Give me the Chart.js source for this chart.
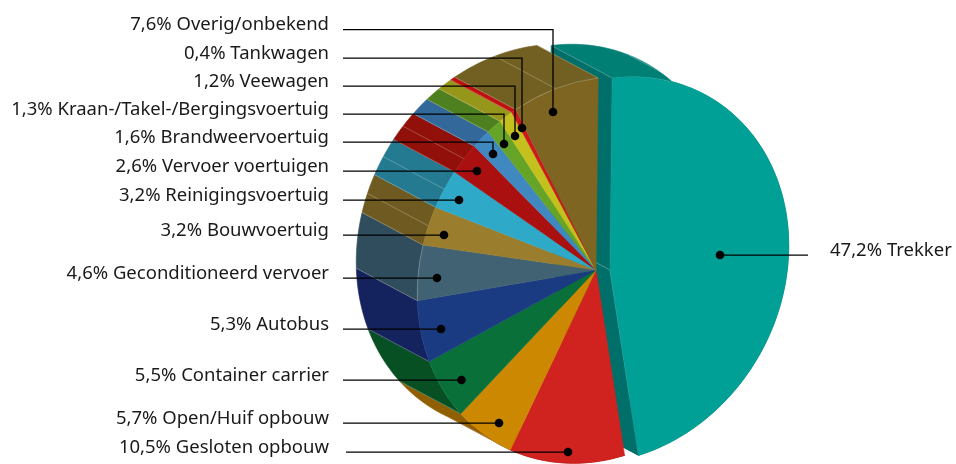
<!DOCTYPE html>
<html><head><meta charset="utf-8">
<style>html,body{margin:0;padding:0;background:#fff}canvas{display:block}</style>
<script src="https://cdn.jsdelivr.net/npm/chart.js@4"></script>
</head><body><canvas id="c" width="956" height="464"></canvas>
<script>
// Data, clockwise from the top of the pie
const categories = ["Trekker","Gesloten opbouw","Open/Huif opbouw","Container carrier","Autobus","Geconditioneerd vervoer","Bouwvoertuig","Reinigingsvoertuig","Vervoer voertuigen","Brandweervoertuig","Kraan-/Takel-/Bergingsvoertuig","Veewagen","Tankwagen","Overig/onbekend"];
const shares = [47.2,10.5,5.7,5.5,5.3,4.6,3.2,3.2,2.6,1.6,1.3,1.2,0.4,7.6];
const faceColors = ["#00a096","#d0221e","#cc8800","#087038","#1a3a82","#406272","#9a7e2e","#2fa9c8","#ab1010","#3f88c0","#66a428","#c4c01e","#d0181c","#7f6522"];
const wallColors = ["#007f75","#a81c18","#906000","#065024","#14235e","#2f4d5c","#6f5a22","#247a90","#92100a","#33699a","#4f8020","#96961a","#c01010","#716022"];
const radialWall = "#006f69";
const midLines = [false,false,false,false,false,false,true,true,true,false,false,false,false,true];
const arcHighlights = [false,false,false,false,false,true,false,false,false,false,false,false,false,true];

// Leader lines: [label baseline, elbow/dot x, dot y]
const leaderLineY = [255,452,423,380,329,278,235,200,171,142,114,86,58,29.5];
const dotX = [720,568,499,461.5,441,437,444,459,477,493,504,515,522,553];
const dotY = [255,452,423,380,329,278,235,200,171,154,144,136,128,112];

// Projection of the pie plane and depth of the extrusion
const SCALE_X = 179/192, SHEAR_Y = -24.4/192;
const DEPTH = {x:-61,y:-32.5};
const EXPLODE = {x:14,y:0};
const FONT = '18.5px "Noto Sans"';

const project = (x,y,P) => {
  const dx=x-P.x, dy=y-P.y;
  return {x:P.x+SCALE_X*dx, y:P.y+SHEAR_Y*dx+dy};
};
const threeD = {
  id:'threeD',
  afterDatasetsUpdate(chart){
    const arcs = chart.getDatasetMeta(0).data;
    const lx = EXPLODE.x/SCALE_X;
    arcs[0].x = arcs[1].x + lx;
    arcs[0].y = arcs[1].y + EXPLODE.y - SHEAR_Y*lx;
  },
  beforeDatasetsDraw(chart){
    const ctx = chart.ctx, arcs = chart.getDatasetMeta(0).data;
    const P = {x:arcs[1].x,y:arcs[1].y};
    const pt = (a,ang) => project(a.x+a.outerRadius*Math.cos(ang), a.y+a.outerRadius*Math.sin(ang), P);
    const back = p => ({x:p.x+DEPTH.x,y:p.y+DEPTH.y});
    const poly = (pts,fill) => {
      ctx.beginPath(); pts.forEach((p,i)=>i?ctx.lineTo(p.x,p.y):ctx.moveTo(p.x,p.y)); ctx.closePath();
      ctx.fillStyle=fill; ctx.strokeStyle=fill; ctx.lineWidth=.6; ctx.fill(); ctx.stroke();
    };
    const seg = (a,b) => {
      ctx.beginPath(); ctx.moveTo(a.x,a.y); ctx.lineTo(b.x,b.y);
      ctx.strokeStyle='rgba(255,255,255,.35)'; ctx.lineWidth=.7; ctx.stroke();
    };
    const wallOf = (a,i) => {
      const n = Math.max(2,Math.ceil((a.endAngle-a.startAngle)/0.03));
      const f=[];
      for(let k=0;k<=n;k++) f.push(pt(a,a.startAngle+(a.endAngle-a.startAngle)*k/n));
      poly(f.concat(f.slice().reverse().map(back)),wallColors[i]);
    };
    ctx.save();
    const t = arcs[0];
    const apex = project(t.x,t.y,P);
    wallOf(t,0);
    [t.startAngle,t.endAngle].forEach(ang=>{
      const e = pt(t,ang);
      poly([apex,e,back(e),back(apex)],radialWall);
    });
    arcs.forEach((a,i)=>{ if(i) wallOf(a,i); });
    seg(apex,back(apex));
    const s0=pt(t,t.startAngle); seg(s0,back(s0));
    const e0=pt(t,t.endAngle); seg(e0,apex);
    const m0=pt(t,t.startAngle+0.45); seg(m0,back(m0));
    arcs.forEach((a,i)=>{
      if(i===0) return;
      const e=pt(a,a.endAngle); seg(e,back(e));
      if(midLines[i]){const m=pt(a,(a.startAngle+a.endAngle)/2); seg(m,back(m));}
    });
    ctx.restore();
    // front faces go through the same projection
    ctx.save();
    ctx.translate(P.x,P.y); ctx.transform(SCALE_X,SHEAR_Y,0,1,0,0); ctx.translate(-P.x,-P.y);
  },
  afterDatasetsDraw(chart){
    const ctx = chart.ctx, arcs = chart.getDatasetMeta(0).data;
    arcs.forEach((a,i)=>{
      if(!arcHighlights[i]) return;
      ctx.beginPath(); ctx.arc(a.x,a.y,a.outerRadius,a.startAngle,a.endAngle);
      ctx.strokeStyle='rgba(255,255,255,.3)'; ctx.lineWidth=.7; ctx.stroke();
    });
    ctx.restore();
  },
  afterDraw(chart){
    const ctx=chart.ctx;
    ctx.save();
    ctx.font=FONT; ctx.textBaseline='alphabetic';
    categories.forEach((name,i)=>{
      const text = shares[i].toFixed(1).replace('.',',')+'% '+name;
      const y = leaderLineY[i]+.2;
      ctx.fillStyle='#1a1a1a';
      ctx.textAlign = i===0 ? 'left':'right';
      ctx.fillText(text, i===0?830:329, leaderLineY[i]+.5);
      ctx.beginPath();
      if(i===0){ctx.moveTo(808,y);ctx.lineTo(dotX[i],y);}
      else{ctx.moveTo(i===1?346:343,y);ctx.lineTo(dotX[i],y);ctx.lineTo(dotX[i],dotY[i]);}
      ctx.strokeStyle='#000';ctx.lineWidth=1.3;ctx.stroke();
      ctx.beginPath();ctx.arc(dotX[i],dotY[i],4.3,0,Math.PI*2);ctx.fillStyle='#000';ctx.fill();
    });
    ctx.restore();
  }
};
new Chart(document.getElementById('c'),{
  type:'pie',
  data:{labels:categories,datasets:[{data:shares,backgroundColor:faceColors,borderColor:faceColors,borderWidth:.5,clip:false}]},
  options:{responsive:false,animation:false,rotation:0.7,
    layout:{padding:{left:404,right:168,top:78,bottom:2}},
    plugins:{legend:{display:false},tooltip:{enabled:false}}},
  plugins:[threeD]
});
</script></body></html>
